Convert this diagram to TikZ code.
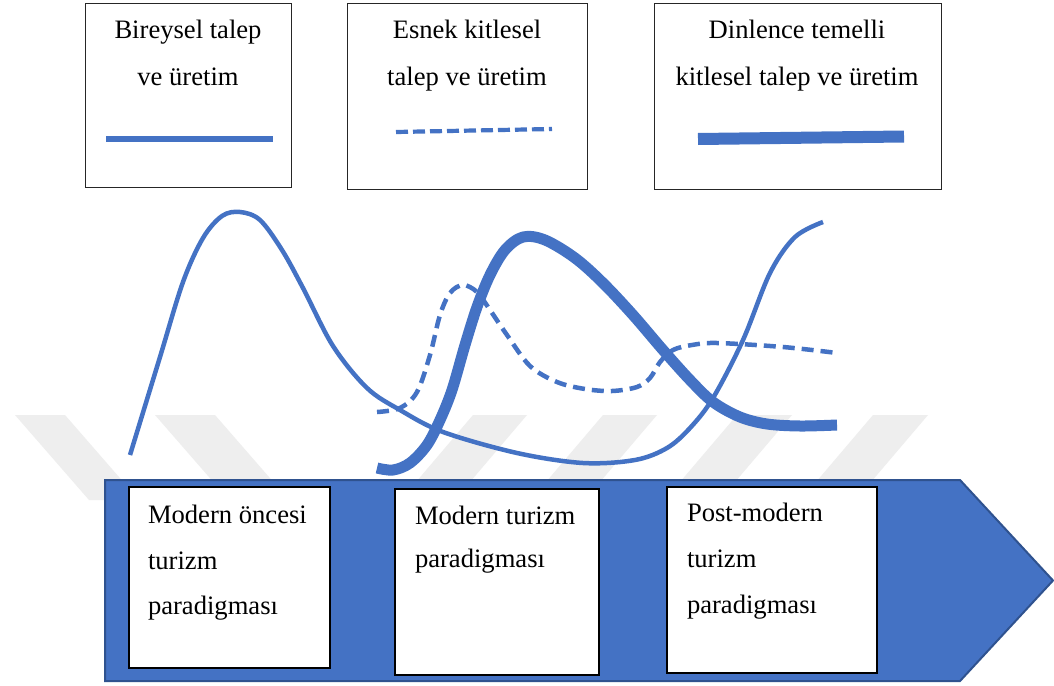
\documentclass[tikz,border=0pt]{standalone}
\usepackage{fontspec}
\setmainfont{Liberation Serif}
\definecolor{cblue}{HTML}{4472C4}
\definecolor{cdark}{HTML}{2F528F}
\definecolor{wm}{HTML}{EEEEEE}
\begin{document}
\begin{tikzpicture}[x=1pt,y=-1pt,
  txt/.style={font=\fontsize{26.6}{32}\selectfont, inner sep=0pt, outer sep=0pt},
  topbox/.style={draw=black!85, line width=1.3pt, fill=white, inner sep=0pt, anchor=north west},
  botbox/.style={draw=black, line width=1.8pt, fill=white, inner sep=0pt, anchor=north west},
  curve/.style={draw=cblue, line cap=butt, line join=round},
  wmstripe/.style={fill=wm, draw=none}]
\useasboundingbox (0,0) rectangle (1054,685);
\fill[white] (0,0) rectangle (1054,685);
% watermark stripes
\fill[wmstripe] (15,415) -- (65,415) -- (139,500) -- (89,500) -- cycle;
\fill[wmstripe] (155,415) -- (215,415) -- (289,500) -- (229,500) -- cycle;
\fill[wmstripe] (473,415) -- (527,415) -- (470,482) -- (416,482) -- cycle;
\fill[wmstripe] (603,415) -- (657,415) -- (600,482) -- (546,482) -- cycle;
\fill[wmstripe] (737,415) -- (792,415) -- (735,482) -- (680,482) -- cycle;
\fill[wmstripe] (873,415) -- (928,415) -- (871,482) -- (816,482) -- cycle;
% top legend boxes
\node[topbox, minimum width=206pt, minimum height=184pt] (lb1) at (85,3) {};
\node[topbox, minimum width=240pt, minimum height=186pt] (lb2) at (347,3) {};
\node[topbox, minimum width=287pt, minimum height=186pt] (lb3) at (654,3) {};
\node[txt, anchor=base] (l1a) at (188,39) {Bireysel talep};
\node[txt, anchor=base] (l1b) at (188,85) {ve üretim};
\node[txt, anchor=base] (l2a) at (467,38) {Esnek kitlesel};
\node[txt, anchor=base] (l2b) at (467,85) {talep ve üretim};
\node[txt, anchor=base] (l3a) at (797,38) {Dinlence temelli};
\node[txt, anchor=base] (l3b) at (797,85) {kitlesel talep ve üretim};
\draw[curve, line width=6pt] (106,139) -- (273,139);
\draw[curve, line width=4.2pt, dash pattern=on 12pt off 5pt] (396,132) -- (552,129);
\draw[curve, line width=12pt] (698,139) -- (904,136.5);
% curves
\draw[curve, line width=4.5pt] plot[smooth, tension=0.55] coordinates {
  (130,455) (160,357) (183,282) (203,238) (222,216) (240,212) (260,220) (282,250)
  (303,288) (333,346) (367,388) (400,410) (443,432) (517,453) (583,463) (635,460)
  (667,448) (690,428) (713,398) (743,340) (770,273) (795,237) (823,222)};
\draw[curve, line width=4.5pt, dash pattern=on 12pt off 7pt] plot[smooth, tension=0.55] coordinates {
  (377,412) (400,408) (417,392) (430,355) (440,315) (450,293) (463,285) (477,292)
  (490,310) (507,335) (530,366) (557,382) (585,389) (612,391) (637,387) (650,378)
  (660,362) (673,350) (692,345) (717,343) (783,347) (837,353)};
\draw[curve, line width=11pt] plot[smooth, tension=0.55] coordinates {
  (377,468) (393,470) (410,463) (427,445) (440,420) (452,390) (465,345) (477,307)
  (490,275) (505,250) (523,237) (545,240) (575,258) (603,283) (633,315) (663,350)
  (690,380) (713,402) (740,417) (767,424) (800,426) (837,425)};
% timeline arrow
\draw[fill=cblue, draw=cdark, line width=2pt, line join=miter] (105,480) -- (960,480) -- (1053,580.5) -- (960,681) -- (105,681) -- cycle;
\node[botbox, minimum width=201pt, minimum height=181pt] (p1) at (128,486) {};
\node[botbox, minimum width=204pt, minimum height=186pt] (p2) at (394,488) {};
\node[botbox, minimum width=210pt, minimum height=186pt] (p3) at (666,486) {};
\node[txt, anchor=base west] (p1a) at (148,523) {Modern öncesi};
\node[txt, anchor=base west] (p1b) at (148,569) {turizm};
\node[txt, anchor=base west] (p1c) at (148,614) {paradigması};
\node[txt, anchor=base west] (p2a) at (415,524) {Modern turizm};
\node[txt, anchor=base west] (p2b) at (415,567) {paradigması};
\node[txt, anchor=base west] (p3a) at (687,521) {Post-modern};
\node[txt, anchor=base west] (p3b) at (687,567) {turizm};
\node[txt, anchor=base west] (p3c) at (687,613) {paradigması};
\end{tikzpicture}
\end{document}
